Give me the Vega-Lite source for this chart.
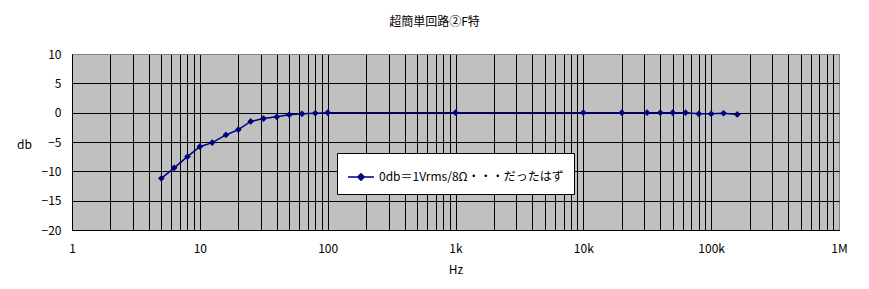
{
  "$schema": "https://vega.github.io/schema/vega-lite/v6.json",
  "width": 767,
  "height": 176,
  "autosize": "none",
  "padding": {"left": 72, "top": 54, "right": 30, "bottom": 59},
  "background": "white",
  "title": {
    "text": "超簡単回路②F特",
    "font": "Noto Sans CJK JP",
    "fontSize": 12,
    "fontWeight": "normal",
    "color": "black",
    "anchor": "middle",
    "dx": -21,
    "offset": 19
  },
  "config": {
    "view": {"fill": "#C0C0C0", "stroke": "#808080", "strokeWidth": 1},
    "font": "Noto Sans CJK JP",
    "axis": {
      "labelFont": "Noto Sans CJK JP",
      "labelFontSize": 12,
      "labelColor": "black",
      "titleFont": "Noto Sans CJK JP",
      "titleFontSize": 12,
      "titleFontWeight": "normal",
      "titleColor": "black",
      "domainColor": "black",
      "domainWidth": 1,
      "ticks": false,
      "grid": true,
      "gridOpacity": 1,
      "gridWidth": 1
    },
    "legend": {
      "labelFont": "Noto Sans CJK JP",
      "labelFontSize": 12,
      "labelColor": "black",
      "labelLimit": 400
    }
  },
  "data": {
    "values": [
      {"series": "0db＝1Vrms/8Ω・・・だったはず", "freq": 5, "db": -11.2},
      {"series": "0db＝1Vrms/8Ω・・・だったはず", "freq": 6.3, "db": -9.4},
      {"series": "0db＝1Vrms/8Ω・・・だったはず", "freq": 8, "db": -7.5},
      {"series": "0db＝1Vrms/8Ω・・・だったはず", "freq": 10, "db": -5.8},
      {"series": "0db＝1Vrms/8Ω・・・だったはず", "freq": 12.5, "db": -5.1},
      {"series": "0db＝1Vrms/8Ω・・・だったはず", "freq": 16, "db": -3.8},
      {"series": "0db＝1Vrms/8Ω・・・だったはず", "freq": 20, "db": -2.9},
      {"series": "0db＝1Vrms/8Ω・・・だったはず", "freq": 25, "db": -1.5},
      {"series": "0db＝1Vrms/8Ω・・・だったはず", "freq": 31.5, "db": -1.0},
      {"series": "0db＝1Vrms/8Ω・・・だったはず", "freq": 40, "db": -0.7},
      {"series": "0db＝1Vrms/8Ω・・・だったはず", "freq": 50, "db": -0.35},
      {"series": "0db＝1Vrms/8Ω・・・だったはず", "freq": 63, "db": -0.2},
      {"series": "0db＝1Vrms/8Ω・・・だったはず", "freq": 80, "db": -0.1},
      {"series": "0db＝1Vrms/8Ω・・・だったはず", "freq": 100, "db": 0},
      {"series": "0db＝1Vrms/8Ω・・・だったはず", "freq": 1000, "db": 0},
      {"series": "0db＝1Vrms/8Ω・・・だったはず", "freq": 10000, "db": 0},
      {"series": "0db＝1Vrms/8Ω・・・だったはず", "freq": 20000, "db": 0},
      {"series": "0db＝1Vrms/8Ω・・・だったはず", "freq": 31500, "db": 0},
      {"series": "0db＝1Vrms/8Ω・・・だったはず", "freq": 40000, "db": 0},
      {"series": "0db＝1Vrms/8Ω・・・だったはず", "freq": 50000, "db": 0},
      {"series": "0db＝1Vrms/8Ω・・・だったはず", "freq": 63000, "db": 0},
      {"series": "0db＝1Vrms/8Ω・・・だったはず", "freq": 80000, "db": -0.2},
      {"series": "0db＝1Vrms/8Ω・・・だったはず", "freq": 100000, "db": -0.2},
      {"series": "0db＝1Vrms/8Ω・・・だったはず", "freq": 125000, "db": -0.1},
      {"series": "0db＝1Vrms/8Ω・・・だったはず", "freq": 160000, "db": -0.3}
    ]
  },
  "encoding": {
    "x": {
      "field": "freq",
      "type": "quantitative",
      "scale": {"type": "log", "domain": [1, 1000000], "nice": false},
      "axis": {
        "title": "Hz",
        "titleY": 39,
        "titleBaseline": "middle",
        "labelPadding": 13,
        "labelOverlap": false,
        "labelFlush": false,
        "values": [1, 2, 3, 4, 5, 6, 7, 8, 9,
                   10, 20, 30, 40, 50, 60, 70, 80, 90,
                   100, 200, 300, 400, 500, 600, 700, 800, 900,
                   1000, 2000, 3000, 4000, 5000, 6000, 7000, 8000, 9000,
                   10000, 20000, 30000, 40000, 50000, 60000, 70000, 80000, 90000,
                   100000, 200000, 300000, 400000, 500000, 600000, 700000, 800000, 900000,
                   1000000],
        "labelExpr": "indexof([1, 10, 100, 1000, 10000, 100000, 1000000], datum.value) < 0 ? '' : datum.value >= 1000000 ? '1M' : datum.value >= 1000 ? (datum.value / 1000) + 'k' : '' + datum.value",
        "gridColor": {"condition": {"test": "datum.value === 1000000", "value": "#808080"}, "value": "black"}
      }
    },
    "y": {
      "field": "db",
      "type": "quantitative",
      "scale": {"domain": [-20, 10], "nice": false, "zero": false},
      "axis": {
        "title": "db",
        "titleAngle": 0,
        "titleX": -48,
        "titleY": 90,
        "titleAlign": "center",
        "titleBaseline": "middle",
        "labelPadding": 11,
        "values": [-20, -15, -10, -5, 0, 5, 10],
        "gridColor": {"condition": {"test": "datum.value === 10", "value": "#808080"}, "value": "black"}
      }
    }
  },
  "layer": [
    {
      "mark": {"type": "line", "strokeWidth": 1.5},
      "encoding": {
        "color": {
          "field": "series",
          "type": "nominal",
          "scale": {"range": ["#000080"]},
          "legend": {
            "title": null,
            "orient": "none",
            "legendX": 265,
            "legendY": 99,
            "padding": 10,
            "strokeColor": "black",
            "fillColor": "white",
            "labelLimit": 400,
            "symbolType": "M-1,0H1M-0.25,0L0,-0.25L0.25,0L0,0.25Z",
            "symbolSize": 676,
            "symbolStrokeWidth": 1.5,
            "labelOffset": 4,
            "encode": {
              "symbols": {"update": {"fill": {"value": "#000080"}, "stroke": {"value": "#000080"}}}
            }
          }
        }
      }
    },
    {
      "mark": {"type": "point", "shape": "diamond", "filled": true, "size": 45, "color": "#000080", "opacity": 1}
    }
  ]
}
